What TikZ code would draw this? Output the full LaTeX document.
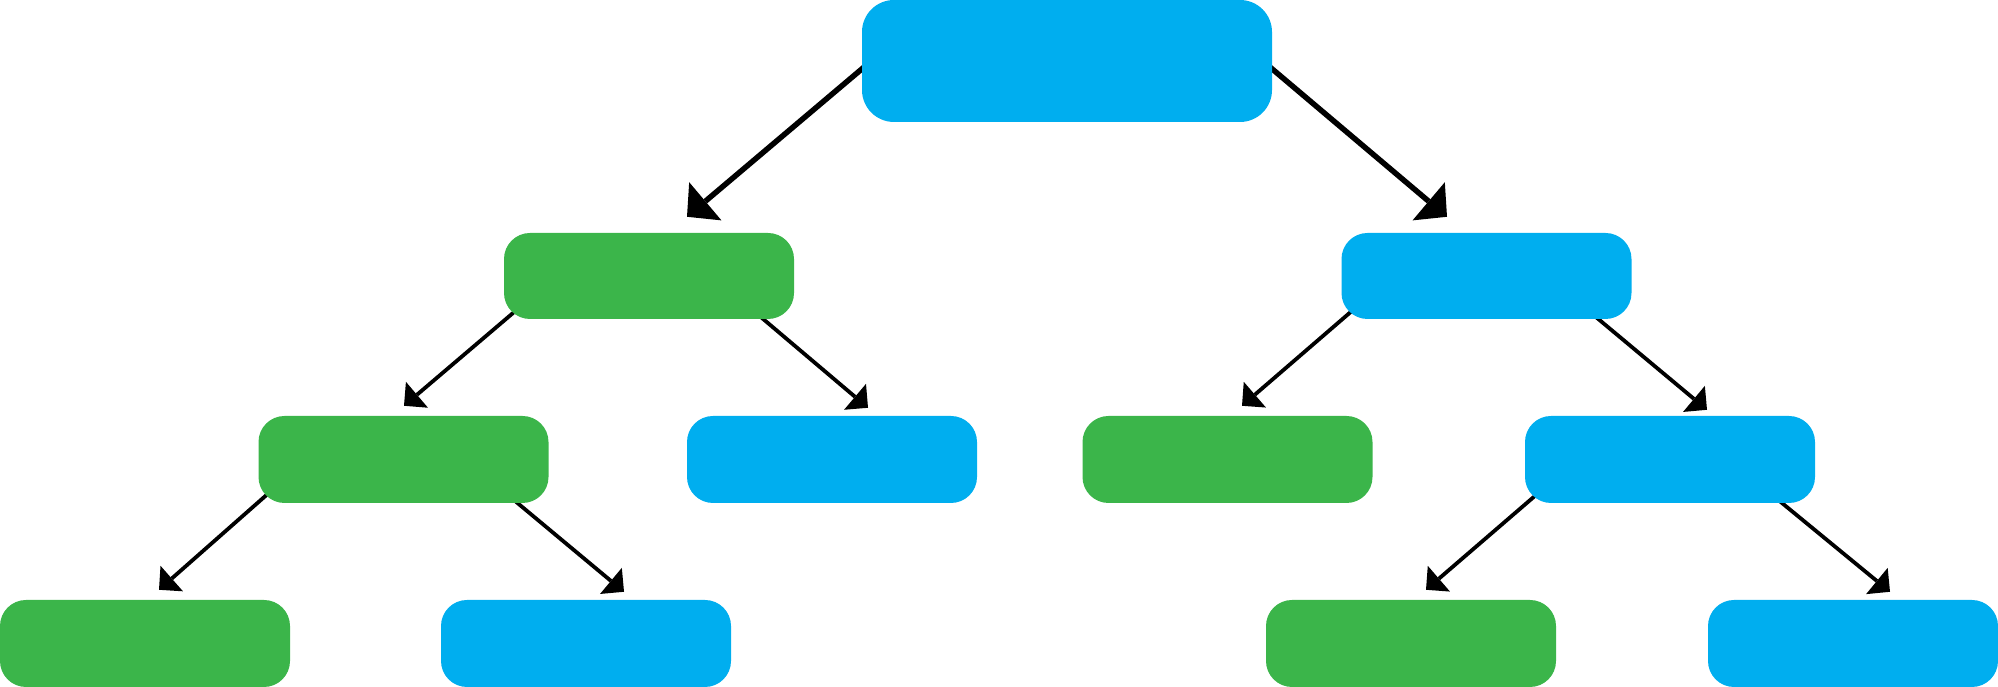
\documentclass[tikz,border=0pt]{standalone}
\usetikzlibrary{arrows.meta,calc}
\pgfdeclarelayer{bg}
\pgfsetlayers{bg,main}
\definecolor{cblue}{HTML}{00AEEF}
\definecolor{cgreen}{HTML}{3BB54A}
\tikzset{
  box/.style={rectangle, draw=none, inner sep=0pt, minimum width=290pt, minimum height=87pt, rounded corners=26pt},
  bluebox/.style={box, fill=cblue},
  greenbox/.style={box, fill=cgreen},
  rootbox/.style={rectangle, draw=none, fill=cblue, inner sep=0pt, minimum width=410pt, minimum height=122pt, rounded corners=32pt},
  bigarr/.style={draw=black, line width=5.5pt, -{Triangle[length=24pt,width=50pt,line width=0pt]}},
  smallarr/.style={draw=black, line width=3.8pt, -{Triangle[length=17pt,width=34pt,line width=0pt]}},
}
\begin{document}
\begin{tikzpicture}[x=1pt,y=1pt]
\useasboundingbox (0,0) rectangle (1998,687);
% nodes
\node[rootbox] (root) at (1067,626) {};
\node[greenbox, minimum height=86pt] (l1g) at (649,411) {};
\node[bluebox, minimum height=86pt] (l1b) at (1486.5,411) {};
\node[greenbox] (l2g) at (403.5,227.5) {};
\node[bluebox] (l2b) at (832,227.5) {};
\node[greenbox] (l2g2) at (1227.5,227.5) {};
\node[bluebox] (l2b2) at (1670,227.5) {};
\node[greenbox] (l3g) at (145,43.5) {};
\node[bluebox] (l3b) at (586,43.5) {};
\node[greenbox] (l3g2) at (1411,43.5) {};
\node[bluebox] (l3b2) at (1853,43.5) {};
% connector points
\coordinate (e1) at ($(root.west)+(0,-8)$);   \coordinate (t1) at ($(l1g.north)+(38,16)$);
\coordinate (e2) at ($(root.east)+(0,-8)$);   \coordinate (t2) at ($(l1b.north)+(-39.5,16)$);
\coordinate (e3) at ($(l1g.south west)+(9,6)$);  \coordinate (t3) at ($(l2g.north)+(0.5,10)$);
\coordinate (e4) at ($(l1g.south east)+(-32,1)$); \coordinate (t4) at ($(l2b.north)+(36,8)$);
\coordinate (e5) at ($(l1b.south west)+(8,6)$);  \coordinate (t5) at ($(l2g2.north)+(14.5,10)$);
\coordinate (e6) at ($(l1b.south east)+(-32,-1)$); \coordinate (t6) at ($(l2b2.north)+(37,6)$);
\coordinate (e7) at ($(l2g.south west)+(8,8)$);  \coordinate (t7) at ($(l3g.north)+(14,10)$);
\coordinate (e8) at ($(l2g.south east)+(-31,0)$); \coordinate (t8) at ($(l3b.north)+(38,8)$);
\coordinate (e9) at ($(l2b2.south west)+(11,8)$); \coordinate (t9) at ($(l3g2.north)+(15,10)$);
\coordinate (e10) at ($(l2b2.south east)+(-33,0)$); \coordinate (t10) at ($(l3b2.north)+(37,8)$);
\begin{pgfonlayer}{bg}
\draw[bigarr] ($(e1)!-25pt!(t1)$) -- (t1);
\draw[bigarr] ($(e2)!-25pt!(t2)$) -- (t2);
\draw[smallarr] ($(e3)!-20pt!(t3)$) -- (t3);
\draw[smallarr] ($(e4)!-20pt!(t4)$) -- (t4);
\draw[smallarr] ($(e5)!-20pt!(t5)$) -- (t5);
\draw[smallarr] ($(e6)!-20pt!(t6)$) -- (t6);
\draw[smallarr] ($(e7)!-20pt!(t7)$) -- (t7);
\draw[smallarr] ($(e8)!-20pt!(t8)$) -- (t8);
\draw[smallarr] ($(e9)!-20pt!(t9)$) -- (t9);
\draw[smallarr] ($(e10)!-20pt!(t10)$) -- (t10);
\end{pgfonlayer}
\end{tikzpicture}
\end{document}
